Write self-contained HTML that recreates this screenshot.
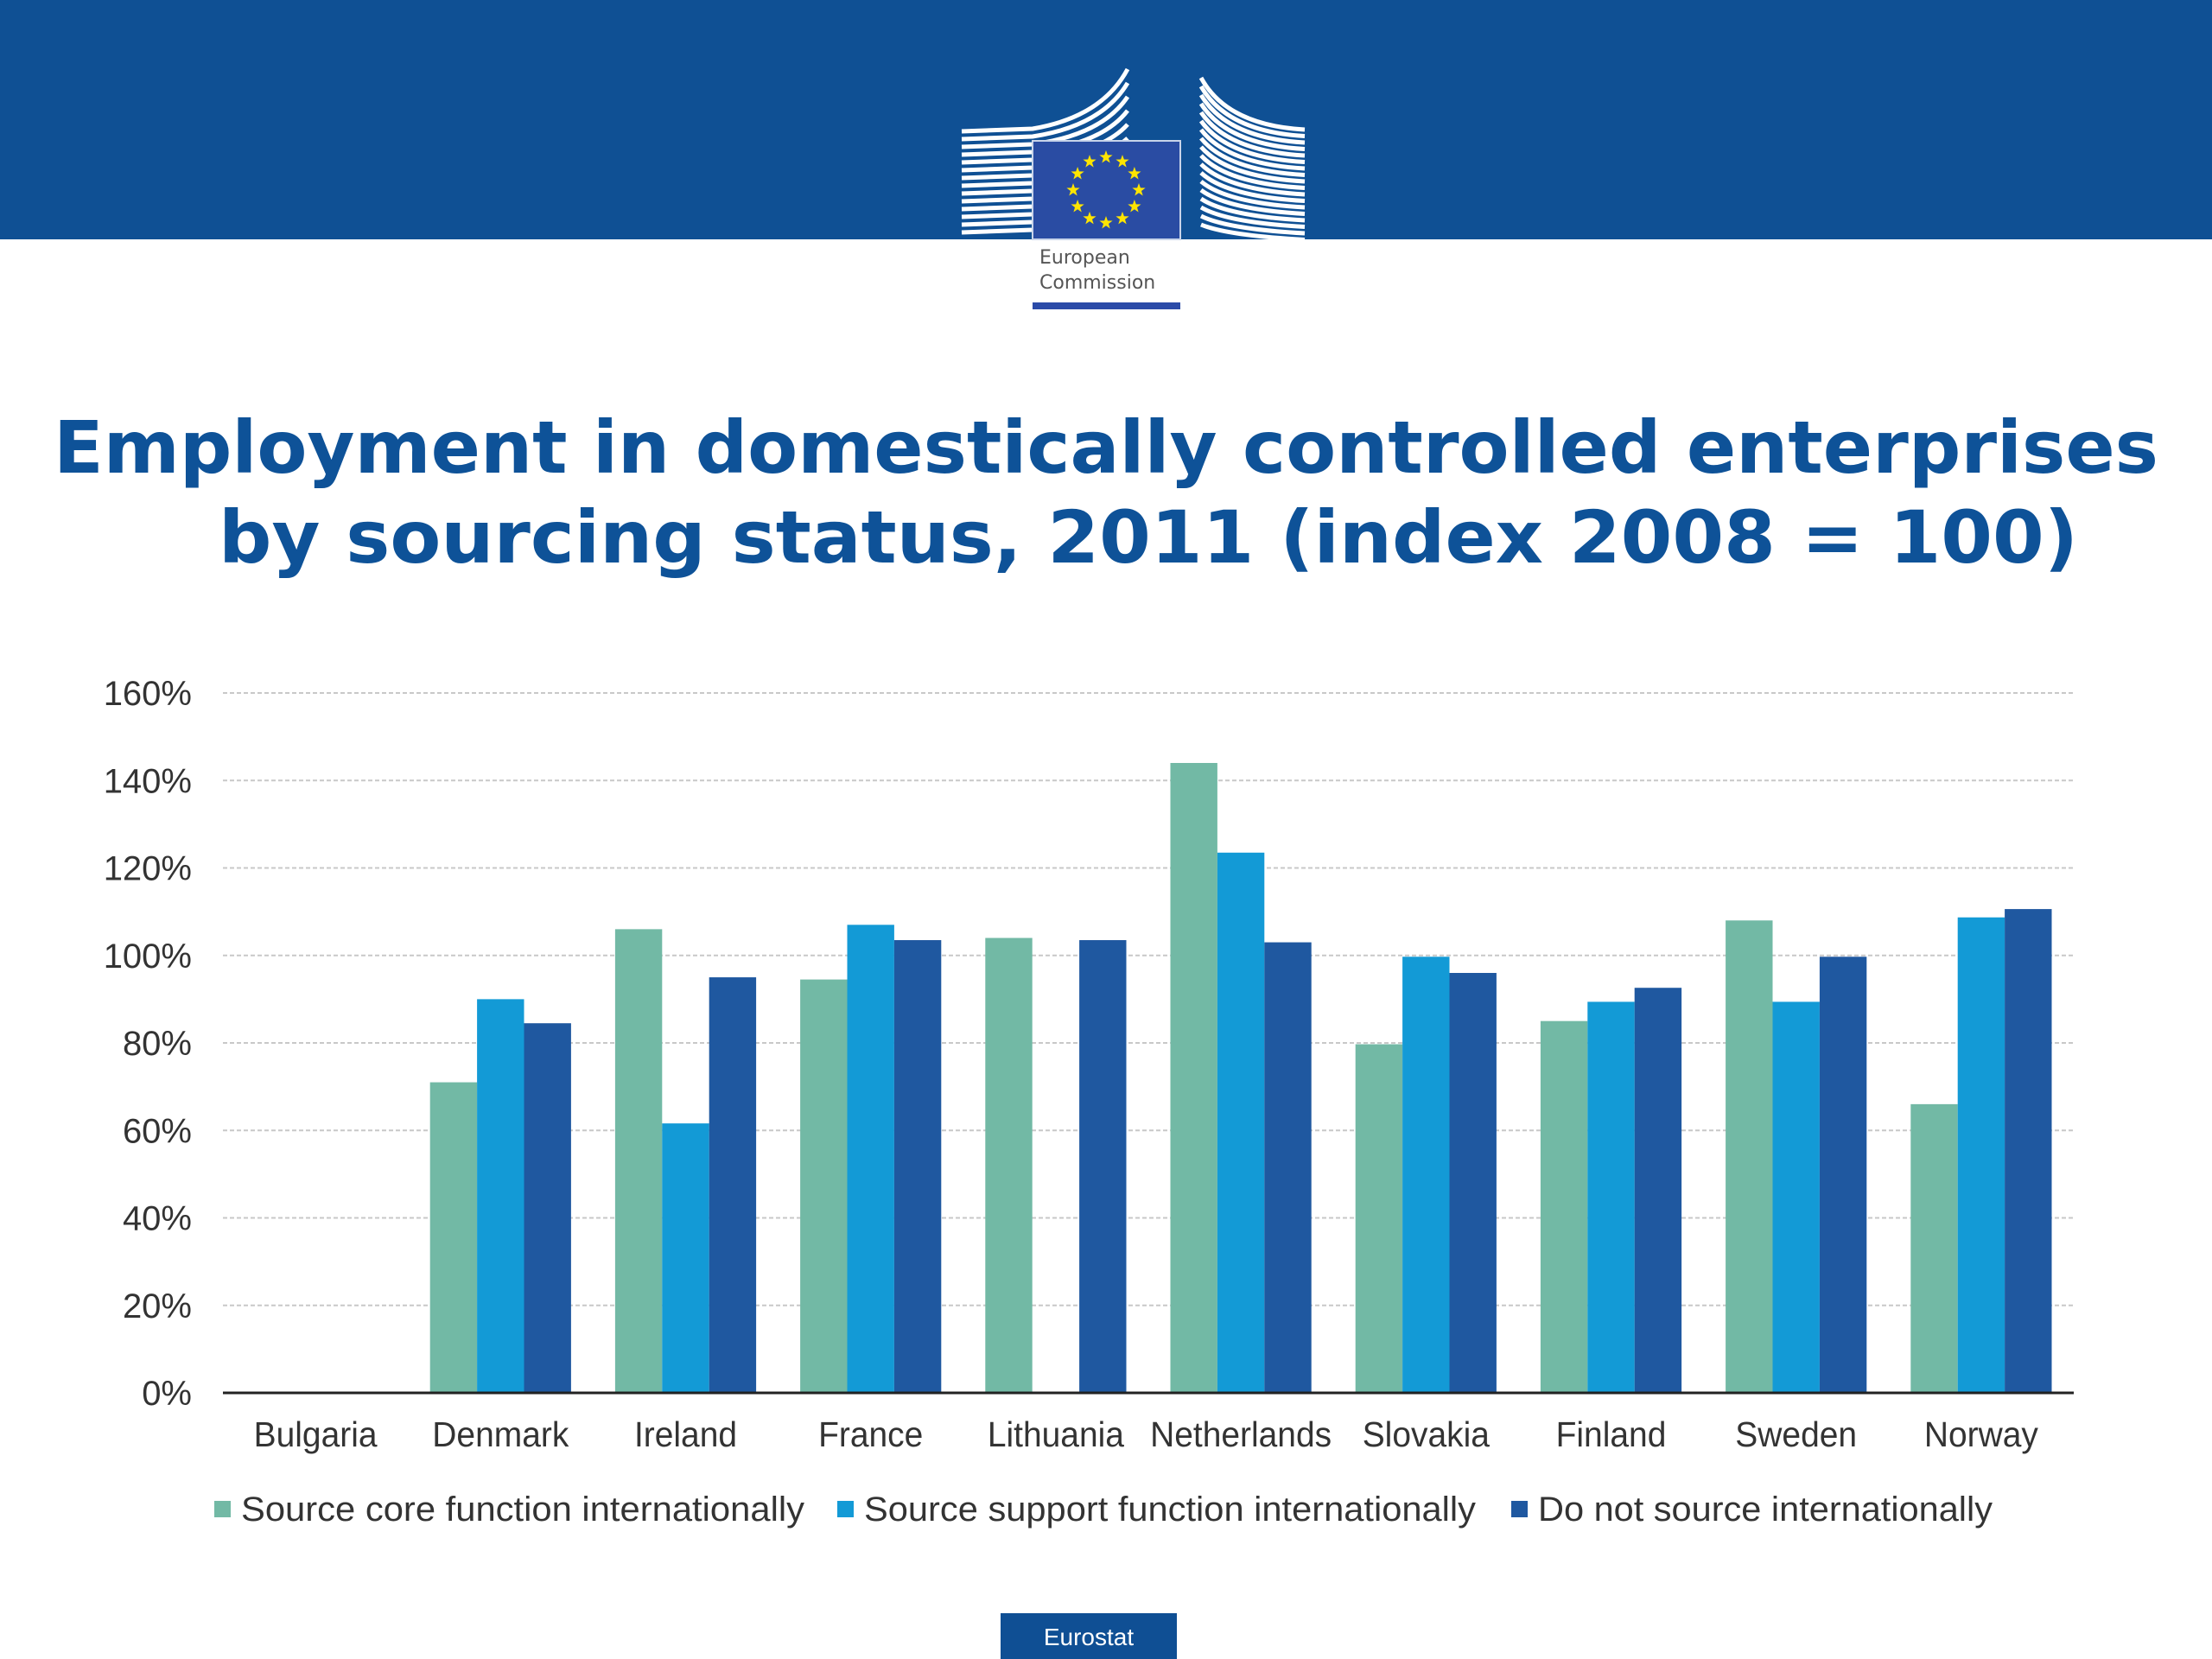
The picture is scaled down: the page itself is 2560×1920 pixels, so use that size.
<!DOCTYPE html>
<html><head><meta charset="utf-8"><style>
html,body{margin:0;padding:0;background:#fff;}
svg{display:block;}
</style></head><body>
<svg id="page" width="2560" height="1920" viewBox="0 0 2560 1920" xmlns="http://www.w3.org/2000/svg">
  <rect x="0" y="0" width="2560" height="277" fill="#0f5094"/>
  <g>
    <rect x="1110" y="100" width="420" height="180" fill="#0f5094"/>
    <g id="leftbld" stroke="#fff" stroke-width="5" fill="none"></g>
    <g id="rightbld" stroke="#fff" stroke-width="5" fill="none"></g>
    <rect x="1110" y="277" width="420" height="110" fill="#fff"/>
    <rect x="1195" y="163" width="171" height="114" fill="#2a4ca3" stroke="#c8d4ea" stroke-width="2"/>
    <g id="stars" fill="#ffe500"></g>
    <text x="1203" y="305" font-family="'DejaVu Sans', sans-serif" font-size="22" fill="#555">European</text>
    <text x="1203" y="334" font-family="'DejaVu Sans', sans-serif" font-size="22" fill="#555">Commission</text>
    <rect x="1195" y="350" width="171" height="8" fill="#2b4ba8"/>
  </g>
  <text x="62" y="547" textLength="2436" lengthAdjust="spacingAndGlyphs" font-family="'DejaVu Sans', sans-serif" font-weight="bold" font-size="84" fill="#0e5298">Employment in domestically controlled enterprises</text>
  <text x="253" y="651" textLength="2152" lengthAdjust="spacingAndGlyphs" font-family="'DejaVu Sans', sans-serif" font-weight="bold" font-size="84" fill="#0e5298">by sourcing status, 2011 (index 2008 = 100)</text>
  <g id="chart"></g>
  <g>
    <rect x="1158" y="1867" width="204" height="53" fill="#0f4f94"/>
    <text x="1260" y="1904" text-anchor="middle" font-family="'Liberation Sans', sans-serif" font-size="28" fill="#fff">Eurostat</text>
  </g>
</svg>
<script>
const categories = ["Bulgaria","Denmark","Ireland","France","Lithuania","Netherlands","Slovakia","Finland","Sweden","Norway"];
const coreValues = [null,71,106,94.5,104,144,79.7,85,108,66];
const supportValues = [null,90,61.6,107,null,123.5,99.7,89.4,89.4,108.7];
const domesticValues = [null,84.5,95,103.5,103.5,103,96,92.6,99.7,110.6];
const seriesNames = ["Source core function internationally","Source support function internationally","Do not source internationally"];
const tickValues = [0,20,40,60,80,100,120,140,160];
const tickLabels = ["0%","20%","40%","60%","80%","100%","120%","140%","160%"];

const NS = "http://www.w3.org/2000/svg";
function mk(tag, attrs, parent){const e=document.createElementNS(NS,tag);for(const k in attrs)e.setAttribute(k,attrs[k]);parent.appendChild(e);return e;}

(function(){
  const lb=document.getElementById('leftbld');
  for(let i=0;i<14;i++){
    const y=152+i*9, dy=Math.max(0,6-i)*7;
    mk('path',{d:`M1113 ${y} L1195 ${y-3} Q1275 ${y-8-dy*0.2} ${1305} ${y-30-dy}`},lb);
  }
  const rb=document.getElementById('rightbld');
  for(let i=0;i<18;i++){
    const y=90+i*10;
    mk('path',{d:`M1390 ${y} Q${1420} ${y+55-i*2.5} 1510 ${y+60-i*2.5}`},rb);
  }
  const st=document.getElementById('stars');
  for(let i=0;i<12;i++){
    const a=i*Math.PI/6, cx=1280+38*Math.sin(a), cy=220-38*Math.cos(a);
    let d='';
    for(let k=0;k<10;k++){const r=k%2?3.2:8;const b=k*Math.PI/5;d+=(k?'L':'M')+(cx+r*Math.sin(b)).toFixed(1)+' '+(cy-r*Math.cos(b)).toFixed(1);}
    mk('path',{d:d+'Z'},st);
  }
})();

const chart=document.getElementById('chart');
const x0=258, x1=2400, yTop=802, yBot=1612, vMax=160;
function yScale(v){return yBot-(v/vMax)*(yBot-yTop);}
const catW=(x1-x0)/categories.length;
function xCat(i){return x0+catW*(i+0.5);}
const barW=54.4;
const colors=["#72b9a5","#139ad6","#1f58a0"];
const series=[coreValues,supportValues,domesticValues];

tickValues.forEach((v,i)=>{
  const y=yScale(v);
  if(v>0){
    const g=mk('line',{x1:x0,x2:x1,y1:y,y2:y,stroke:'#c8c8c8','stroke-width':2,'stroke-dasharray':'5 3'},chart);
    
    
  }
  const t=mk('text',{x:222,y:y+14,'text-anchor':'end','font-family':"'Liberation Sans', sans-serif",'font-size':40,fill:'#333'},chart);
  
  
  t.textContent=tickLabels[i];
});

series.forEach((vals,s)=>{
  vals.forEach((v,i)=>{
    if(v===null)return;
    const bx=xCat(i)+(s-1.5)*barW;
    const r=mk('rect',{x:bx,y:yScale(v),width:barW,height:yBot-yScale(v),fill:colors[s]},chart);
    
    
  });
});

const ax=mk('line',{x1:x0,x2:x1,y1:yBot,y2:yBot,stroke:'#222','stroke-width':3},chart);



categories.forEach((c,i)=>{
  const t=mk('text',{x:xCat(i),y:1674,'text-anchor':'middle','font-family':"'Liberation Sans', sans-serif",'font-size':41,fill:'#333'},chart);
  
  
  t.textContent=c;
  const w=t.getComputedTextLength();
  if(w>0) t.setAttribute('textLength',(w*0.95).toFixed(1));
  t.setAttribute('lengthAdjust','spacingAndGlyphs');
});

const legX=[248,969,1749], legEnd=[931,1708,2306];
seriesNames.forEach((n,s)=>{
  const sq=mk('rect',{x:legX[s],y:1737,width:19,height:19,fill:colors[s]},chart);
  
  
  const t=mk('text',{x:legX[s]+31,y:1760,'font-family':"'Liberation Sans', sans-serif",'font-size':40,fill:'#333',textLength:legEnd[s]-legX[s]-31,lengthAdjust:'spacingAndGlyphs'},chart);
  
  
  t.textContent=n;
});
</script>
</body></html>
